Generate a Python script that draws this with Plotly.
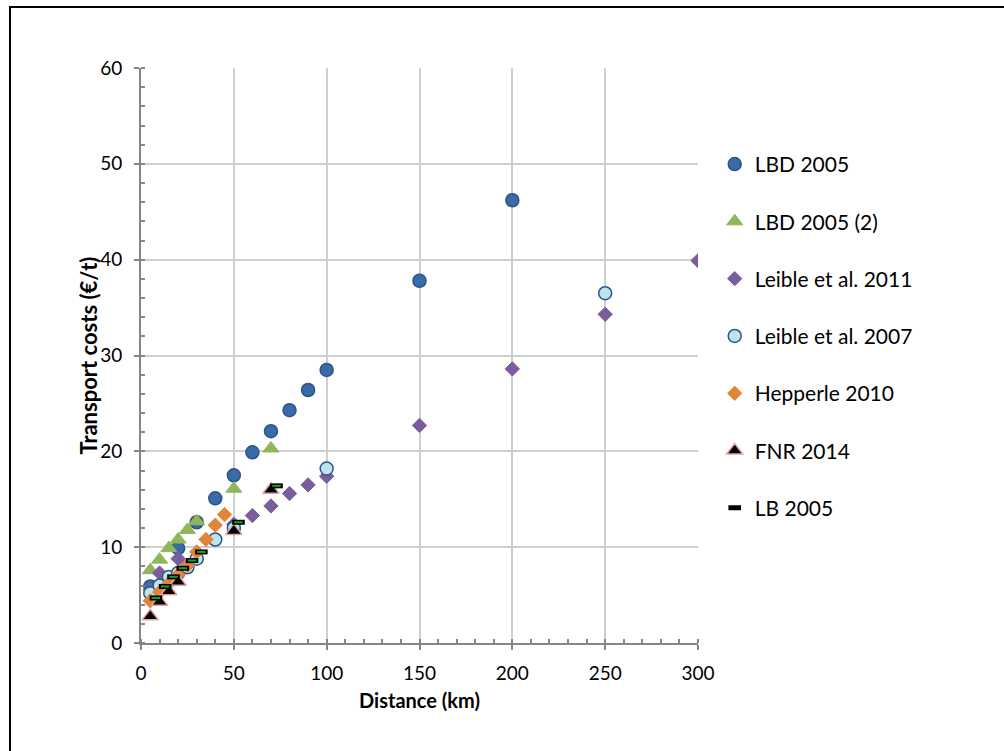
import plotly.graph_objects as go

# Transport cost (EUR per tonne) versus haul distance, by source
lbd_x = [5, 20, 30, 40, 50, 60, 70, 80, 90, 100, 150, 200]
lbd_y = [5.9, 9.9, 12.6, 15.1, 17.5, 19.9, 22.1, 24.3, 26.4, 28.5, 37.8, 46.2]

lbd2_x = [5, 10, 15, 20, 25, 30, 50, 70]
lbd2_y = [7.6, 8.7, 9.9, 10.8, 11.8, 12.7, 16.1, 20.3]

leible11_x = [5, 10, 20, 50, 60, 70, 80, 90, 100, 150, 200, 250, 300]
leible11_y = [5.5, 7.3, 8.8, 12.4, 13.3, 14.3, 15.6, 16.5, 17.4, 22.7, 28.6, 34.3, 39.9]

leible07_x = [5, 10, 15, 20, 25, 30, 40, 50, 100, 250]
leible07_y = [5.2, 6.0, 6.9, 7.3, 7.9, 8.8, 10.8, 12.0, 18.2, 36.5]

hepperle_x = [5, 10, 15, 20, 25, 30, 35, 40, 45]
hepperle_y = [4.4, 5.3, 6.2, 7.1, 8.1, 9.5, 10.8, 12.3, 13.4]

fnr_x = [5, 10, 15, 20, 50, 70]
fnr_y = [2.8, 4.3, 5.4, 6.4, 11.7, 16.0]

lb_x = [8, 13, 17.5, 22.5, 27.5, 32.5, 52.5, 73]
lb_y = [4.7, 5.9, 6.9, 7.8, 8.6, 9.5, 12.6, 16.4]

x_ticks = [0, 50, 100, 150, 200, 250, 300]
y_ticks = [0, 10, 20, 30, 40, 50, 60]

FONT = "Lato"

fig = go.Figure()


def add(name, xs, ys, symbol, size, fill, edge, edge_w=1, group=None):
    fig.add_trace(go.Scatter(
        x=xs, y=ys, mode="markers", name=name,
        legendgroup=group or name,
        marker=dict(symbol=symbol, size=size, color=fill,
                    line=dict(color=edge, width=edge_w)),
    ))


add("LBD 2005", lbd_x, lbd_y, "circle", 13, "#3A6BA8", "#2A5587", 1.5)
add("LBD 2005 (2)", lbd2_x, lbd2_y, "triangle-up", 14, "#93B55A", "#93B55A")
add("Leible et al. 2011", leible11_x, leible11_y, "diamond", 11, "#7B5C9C", "#7B5C9C")
add("Leible et al. 2007", leible07_x, leible07_y, "circle", 13, "#BDE3EC", "#2A5587", 1.5)
add("Hepperle 2010", hepperle_x, hepperle_y, "diamond", 11, "#E38539", "#E38539")
add("FNR 2014", fnr_x, fnr_y, "triangle-up", 14, "#000000", "#E3A3A3", 1.5)

# LB 2005: short dash, black outline with green core
fig.add_trace(go.Scatter(
    x=lb_x, y=lb_y, mode="markers", name="LB 2005", legendgroup="LB 2005",
    marker=dict(symbol="line-ew", size=9, color="#000000",
                line=dict(color="#000000", width=5)),
))
fig.add_trace(go.Scatter(
    x=lb_x, y=lb_y, mode="markers", name="LB 2005", legendgroup="LB 2005",
    showlegend=False,
    marker=dict(symbol="line-ew", size=6, color="#1E9E1E",
                line=dict(color="#1E9E1E", width=2)),
))

axis_common = dict(
    showline=True, linecolor="#868686", linewidth=2,
    showgrid=True, gridcolor="#CFCFCF", gridwidth=1.5,
    zeroline=False,
    ticks="outside", ticklen=5, tickcolor="#868686", tickwidth=2,
    tickfont=dict(family=FONT, size=19, color="#000000"),
)

fig.update_xaxes(
    range=[0, 300], tickvals=x_ticks, ticktext=[str(v) for v in x_ticks],
    ticklabelstandoff=7,
    minor=dict(dtick=10, ticks="inside", ticklen=4, tickcolor="#868686", tickwidth=1.5,
               showgrid=False),
    title=dict(text="<b>Distance (km)</b>", font=dict(family=FONT, size=20, color="#000000"),
               standoff=11),
    **axis_common,
)
fig.update_yaxes(
    range=[0, 60], tickvals=y_ticks, ticktext=[str(v) for v in y_ticks],
    ticklabelstandoff=8,
    minor=dict(dtick=2, ticks="inside", ticklen=4, tickcolor="#868686", tickwidth=1.5,
               showgrid=False),
    **axis_common,
)

# Y-axis title placed as rotated text beside the tick labels
fig.add_annotation(
    text="<b>Transport costs (€/t)</b>", xref="paper", yref="paper",
    x=-0.095, y=0.5, xanchor="center", yanchor="middle", textangle=-90,
    showarrow=False, font=dict(family=FONT, size=22, color="#000000"),
)

# Outer frame (left and top edges fall inside the page)
fig.add_shape(type="rect", xref="paper", yref="paper",
              x0=-0.2352, y0=-1.0, x1=2.0, y1=1.106,
              line=dict(color="#000000", width=2), fillcolor="rgba(0,0,0,0)")

fig.update_layout(
    width=1004, height=751,
    margin=dict(l=141, r=306, t=68, b=108),
    plot_bgcolor="#FFFFFF", paper_bgcolor="#FFFFFF",
    font=dict(family=FONT, color="#000000"),
    legend=dict(
        x=1.03, xanchor="left", y=0.868, yanchor="top",
        font=dict(family=FONT, size=21, color="#000000"),
        tracegroupgap=27, itemwidth=30,
        bgcolor="rgba(0,0,0,0)",
    ),
)

fig.write_html("out.html")
